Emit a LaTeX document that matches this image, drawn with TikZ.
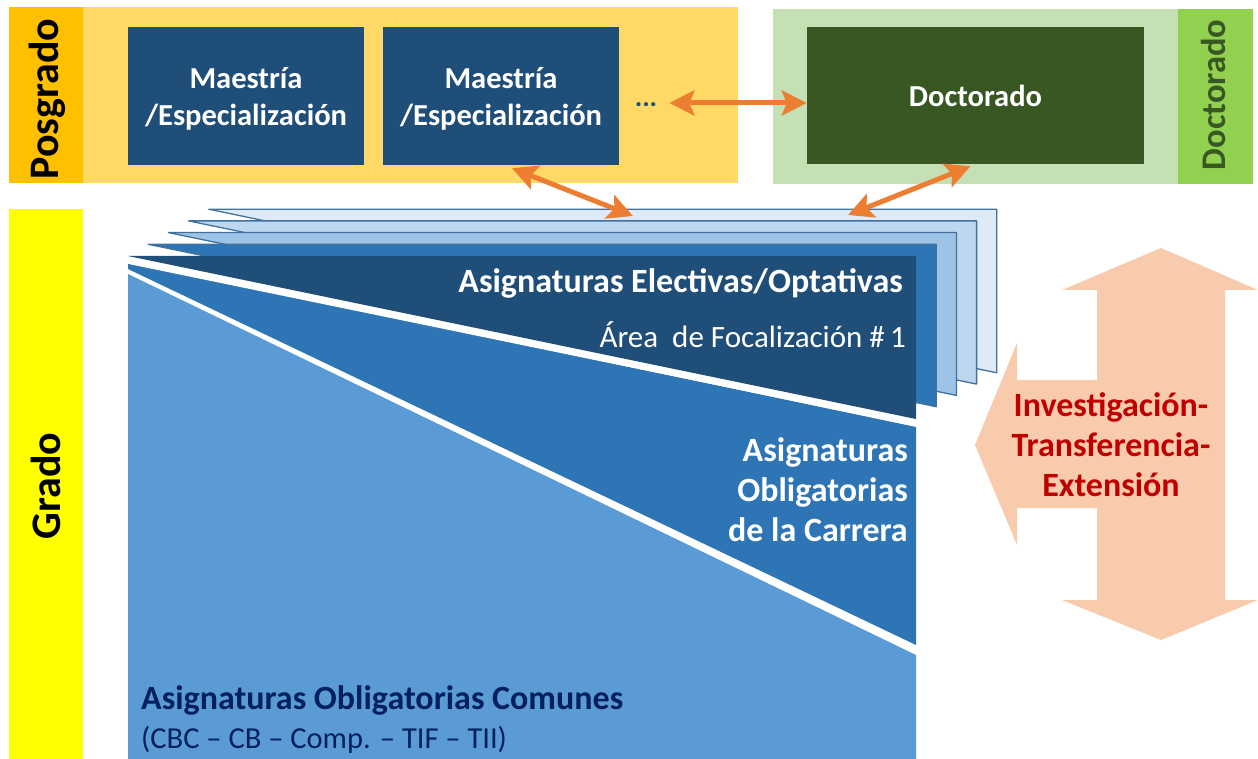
\documentclass[tikz,border=0pt]{standalone}
\usepackage{fontspec}
\setmainfont{Carlito}
\usetikzlibrary{arrows.meta}
\definecolor{posdark}{HTML}{FFC000}
\definecolor{poslight}{HTML}{FFD966}
\definecolor{navybox}{HTML}{1F4E79}
\definecolor{greenlight}{HTML}{C5E0B4}
\definecolor{greenstrip}{HTML}{92D050}
\definecolor{greendark}{HTML}{385723}
\definecolor{gradoyellow}{HTML}{FFFF00}
\definecolor{orangearrow}{HTML}{ED7D31}
\definecolor{bluelight}{HTML}{5B9BD5}
\definecolor{bluemid}{HTML}{2E75B6}
\definecolor{bluep2}{HTML}{9DC3E6}
\definecolor{bluep3}{HTML}{BDD7EE}
\definecolor{bluep4}{HTML}{DEEBF7}
\definecolor{pageedge}{HTML}{41719C}
\definecolor{peach}{HTML}{F8CBAD}
\definecolor{darkred}{HTML}{C00000}
\definecolor{textnavy}{HTML}{002060}
\begin{document}
\begin{tikzpicture}[x=1pt,y=-1pt,
  boxtxt/.style={text=white, font=\bfseries\fontsize{30.5}{37}\selectfont, align=center, inner sep=0pt},
  progbox/.style={fill=navybox, minimum width=236pt, minimum height=138pt, inner sep=0pt},
  oarrow/.style={draw=orangearrow, line width=5pt, {Stealth[length=25pt,width=25pt,inset=5pt]}-{Stealth[length=25pt,width=25pt,inset=5pt]}},
  pagesheet/.style={draw=pageedge, line width=1.3pt, line join=round},
  sidelabel/.style={font=\bfseries\fontsize{42}{42}\selectfont, rotate=90, inner sep=0pt},
  whitebold/.style={text=white, font=\bfseries\fontsize{34}{40}\selectfont, inner sep=0pt}]
\useasboundingbox (0,0) rectangle (1258,759);

% Posgrado band
\fill[poslight] (9,7) rectangle (738,183);
\fill[posdark] (9,7) rectangle (83,183);
\node[sidelabel, text=black] (posg) at (47,99) {Posgrado};

% Doctorado band
\fill[greenlight] (773,9) rectangle (1178,184);
\fill[greenstrip] (1178,9) rectangle (1253,184);
\node[sidelabel, text=greendark, font=\bfseries\fontsize{34.5}{34.5}\selectfont] (docl) at (1214,95) {Doctorado};

% Grado strip
\fill[gradoyellow] (9,209) rectangle (83,759);
\node[sidelabel, text=black] (grado) at (46,486) {Grado};

% Program boxes
\node[progbox] (m1) at (246,96) {};
\node[boxtxt] at ([yshift=-3pt]m1.center) {Maestría\\/Especialización};
\node[progbox] (m2) at (501,96) {};
\node[boxtxt] at ([yshift=-3pt]m2.center) {Maestría\\/Especialización};
\node[text=navybox, font=\bfseries\fontsize{28}{28}\selectfont, inner sep=0pt] (dots) at (646,105) {...};
\node[fill=greendark, minimum width=337pt, minimum height=137pt, inner sep=0pt] (doc) at (975.5,95.5) {};
\node[boxtxt] at (doc) {Doctorado};

% Grado blocks
\fill[bluelight] (128,274) -- (916,655) -- (916,759) -- (128,759) -- cycle;
\fill[bluemid] (128,262) -- (916,427) -- (916,645) -- (128,269) -- cycle;

% stacked pages, back to front
\foreach \k/\col in {4/bluep4,3/bluep3,2/bluep2,1/bluemid}{
  \filldraw[pagesheet, fill=\col]
    ({128+20.2*\k},{256-11.7*\k}) -- ({916+20.2*\k},{256-11.7*\k}) -- ({916+20.2*\k},{418-11.3*\k}) -- cycle;
}
\fill[navybox] (128,256) -- (916,256) -- (916,419) -- cycle;
\draw[white, line width=5pt] (124,260.5) -- (918,424);

\node[whitebold, anchor=east] (elect) at (903,283) {Asignaturas Electivas/Optativas};
\node[text=white, font=\fontsize{31}{31}\selectfont, inner sep=0pt, anchor=east] (area) at (906,335) {Área\ \ de Focalización \#\,1};
\node[whitebold, anchor=east, align=right] (carr) at (908,490) {Asignaturas\\Obligatorias\\de la Carrera};
\node[text=textnavy, font=\bfseries\fontsize{34}{34}\selectfont, inner sep=0pt, anchor=west] (comun) at (141,700) {Asignaturas Obligatorias Comunes};
\node[text=textnavy, font=\fontsize{30.5}{30.5}\selectfont, inner sep=0pt, anchor=west] (cbc) at (141,740) {(CBC – CB – Comp. – TIF – TII)};

% Big peach arrow
\fill[peach] (1161,248) -- (1258,290) -- (1225,290) -- (1225,600) -- (1258,600) -- (1161,640)
  -- (1062,600) -- (1097,600) -- (1097,508) -- (1017,508) -- (1017,545) -- (975,445)
  -- (1017,343) -- (1017,380) -- (1097,380) -- (1097,290) -- (1062,290) -- cycle;
\node[text=darkred, font=\bfseries\fontsize{34}{40}\selectfont, align=center, inner sep=0pt] (inv) at (1111,445) {Investigación-\\Transferencia-\\Extensión};

% orange connectors
\coordinate (t1) at (633,216);
\coordinate (t2) at (848,215);
\draw[oarrow] ([xshift=12pt,yshift=2pt]dots.east) -- ([yshift=2pt]dots.east -| doc.west);
\draw[oarrow] ([xshift=11pt,yshift=-3pt]m2.south) -- (t1);
\draw[oarrow] ([xshift=-5pt,yshift=-2pt]doc.south) -- (t2);
\end{tikzpicture}
\end{document}
